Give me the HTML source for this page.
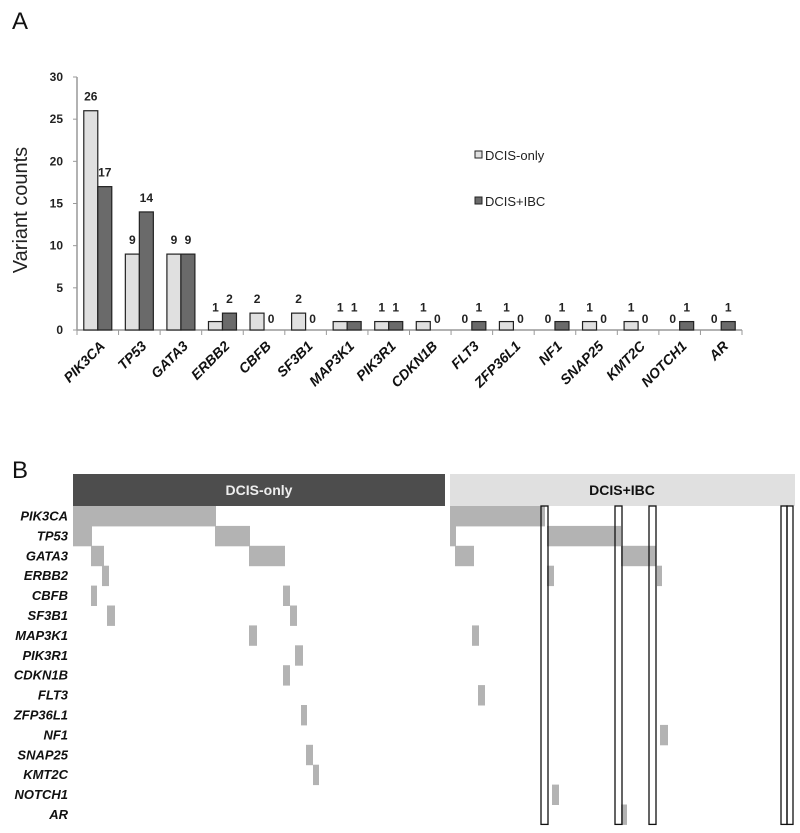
<!DOCTYPE html>
<html><head><meta charset="utf-8"><style>
body{margin:0;background:#fff;width:800px;height:833px;overflow:hidden;font-family:"Liberation Sans",sans-serif}
svg{display:block}
</style></head><body>
<svg id="c" width="800" height="833" xmlns="http://www.w3.org/2000/svg">
<text x="12" y="29" font-size="24" fill="#111">A</text>
<text x="12" y="478" font-size="24" fill="#111">B</text>
<g id="ga"></g>
<g id="gb"></g>
</svg>
<script>
const genes=["PIK3CA","TP53","GATA3","ERBB2","CBFB","SF3B1","MAP3K1","PIK3R1","CDKN1B","FLT3","ZFP36L1","NF1","SNAP25","KMT2C","NOTCH1","AR"];
const dcisOnly=[26,9,9,1,2,2,1,1,1,0,1,0,1,1,0,0];
const dcisIbc=[17,14,9,2,0,0,1,1,0,1,0,1,0,0,1,1];
const yTicks=[0,5,10,15,20,25,30];
const onlySegs=[[0,73,216],[1,73,92],[1,215,250],[2,91,104],[2,249,285],[3,102,109],[4,91,97],[4,283,290],[5,107,115],[5,290,297],[6,249,257],[7,295,303],[8,283,290],[10,301,307],[12,306,313],[13,313,319]];
const ibcSegs=[[0,450,545],[1,450,456],[1,547,621],[2,455,474],[2,621,656],[3,547,554],[3,657,662],[6,472,479],[9,478,485],[11,660,668],[14,552,559],[15,621,627]];
const boxes=[[541,548],[615,622],[649,656],[781,787],[787,793]];

const NS="http://www.w3.org/2000/svg";
function mk(p,t,a){const e=document.createElementNS(NS,t);for(const k in a)e.setAttribute(k,a[k]);p.appendChild(e);return e;}
const ga=document.getElementById('ga'),gb=document.getElementById('gb');
const X0=77,X1=742,Y0=330,Y30=77;
const y=v=>Y0-(v/30)*(Y0-Y30);
const cw=(X1-X0)/genes.length;
const cx=i=>X0+cw*(i+0.5);
let ax=mk(ga,'line',{x1:X0,y1:Y30,x2:X0,y2:Y0,stroke:'#999','stroke-width':1.5});

ax=mk(ga,'line',{x1:X0,y1:Y0,x2:X1,y2:Y0,stroke:'#999','stroke-width':1.5});

yTicks.forEach(v=>{
 mk(ga,'line',{x1:X0-4,y1:y(v),x2:X0,y2:y(v),stroke:'#999'});
 const t=mk(ga,'text',{x:X0-14,y:y(v)+4,'text-anchor':'end','font-size':12,'font-weight':'bold',fill:'#222'});
 t.textContent=v;
 
 
});
for(let i=0;i<=genes.length;i++)mk(ga,'line',{x1:X0+cw*i,y1:Y0,x2:X0+cw*i,y2:Y0+5,stroke:'#999'});
const yl=mk(ga,'text',{x:0,y:0,transform:'translate(27,210) rotate(-90)','text-anchor':'middle','font-size':20,fill:'#222'});
yl.textContent='Variant counts';


genes.forEach((g,i)=>{
 const c=cx(i);
 [[dcisOnly[i],c-14,'#e0e0e0','bar-dcis-only'],[dcisIbc[i],c,'#6a6a6a','bar-dcis-ibc']].forEach(([v,x,f,n])=>{
  if(v>0){const r=mk(ga,'rect',{x:x,y:y(v),width:14,height:Y0-y(v),fill:f,stroke:'#222','stroke-width':1.2});
   
   }
  const t=mk(ga,'text',{x:x+7,y:y(v)-10+(v===0?3:0),'text-anchor':'middle','font-size':12,'font-weight':'bold',fill:'#222'});
  t.textContent=v;
  
  
 });
 const t=mk(ga,'text',{x:0,y:0,transform:`translate(${c+8},347) rotate(-45)`,'text-anchor':'end','font-size':14,'font-weight':'bold','font-style':'italic',fill:'#111'});
 t.textContent=g;
 
 
});
[[155,'#e0e0e0','DCIS-only'],[201,'#6a6a6a','DCIS+IBC']].forEach(([ly,f,lab])=>{
 const r=mk(ga,'rect',{x:475,y:ly-4,width:7,height:7,fill:f,stroke:'#222'});
 
 
 const t=mk(ga,'text',{x:485,y:ly+5,'font-size':13,fill:'#222'});
 t.textContent=lab;
 
 
});
const RT=506,RH=19.9;
let h=mk(gb,'rect',{x:73,y:474,width:372,height:32,fill:'#4d4d4d'});

h=mk(gb,'rect',{x:450,y:474,width:345,height:32,fill:'#e0e0e0'});

let ht=mk(gb,'text',{x:259,y:495,'text-anchor':'middle','font-size':14,'font-weight':'bold',fill:'#eee'});ht.textContent='DCIS-only';

ht=mk(gb,'text',{x:622,y:495,'text-anchor':'middle','font-size':14,'font-weight':'bold',fill:'#111'});ht.textContent='DCIS+IBC';

genes.forEach((g,i)=>{
 const t=mk(gb,'text',{x:68,y:RT+RH*i+14.5,'text-anchor':'end','font-size':13,'font-weight':'bold','font-style':'italic',fill:'#111'});
 t.textContent=g;
 
 
});
onlySegs.concat(ibcSegs).forEach(([gi,a,b])=>{
 const r=mk(gb,'rect',{x:a,y:RT+RH*gi,width:b-a,height:RH+0.5,fill:'#b3b3b3'});
 
 
});
boxes.forEach(([a,b])=>{
 const r=mk(gb,'rect',{x:a,y:RT,width:b-a,height:RH*16,fill:'none',stroke:'#111','stroke-width':1.3});
 
 
});
</script>
</body></html>
